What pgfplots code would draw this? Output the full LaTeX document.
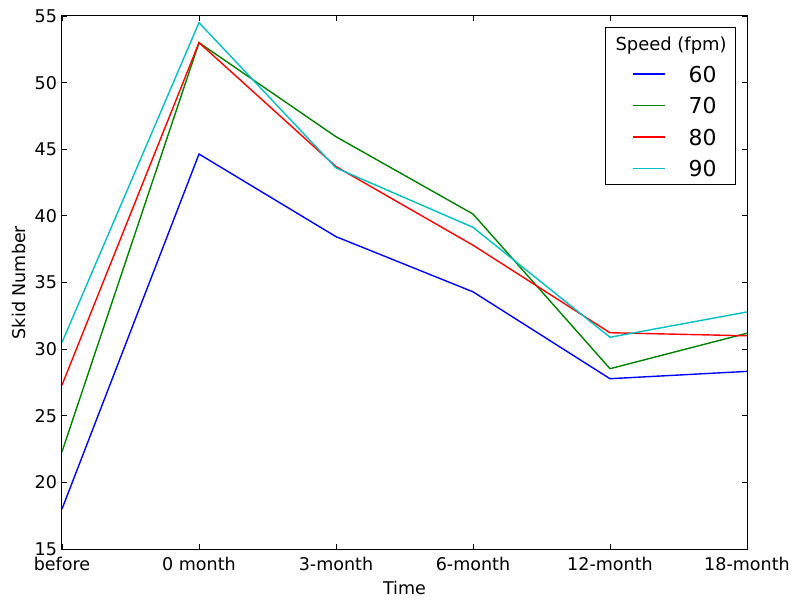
\documentclass[border=0pt]{standalone}
\usepackage{fontspec}
\setmainfont{DejaVu Sans}
\usepackage{pgfplots}
\pgfplotsset{compat=1.18}
\definecolor{mplb}{HTML}{0000FF}
\definecolor{mplg}{HTML}{008000}
\definecolor{mplr}{HTML}{FF0000}
\definecolor{mplc}{HTML}{00BFBF}
\begin{document}
\begin{tikzpicture}
\begin{axis}[
  name=ax,
  scale only axis,
  width=685bp, height=533bp,
  xmin=0, xmax=5, ymin=15, ymax=55,
  xtick={0,1,2,3,4,5},
  xticklabels={before,0 month,3-month,6-month,12-month,18-month},
  ytick={15,20,25,30,35,40,45,50,55},
  tick align=inside,
  xtick pos=both, ytick pos=both,
  major tick length=5bp,
  tick style={black, line width=0.8bp},
  axis line style={black, line width=1bp},
  /pgf/number format/assume math mode=true,
  ticklabel style={font=\fontsize{17.6}{21}\selectfont},
  xticklabel style={anchor=base, yshift=-21bp},
  yticklabel style={xshift=-1.5bp},
  xlabel={Time}, ylabel={Skid Number},
  label style={font=\fontsize{17.6}{21}\selectfont},
  xlabel style={at={(axis description cs:0.5,-0.0845)}, anchor=base},
  ylabel style={at={(axis description cs:-0.0628,0.5)}, anchor=center},
  legend image code/.code={\draw[#1] (0bp,0bp) -- (32bp,0bp);},
  legend style={at={(axis description cs:0.984,0.979)}, anchor=north east,
    draw=black, line width=0.8bp, font=\fontsize{22}{26}\selectfont,
    inner xsep=27bp, inner ysep=8bp, row sep=15.5bp,
    nodes={inner sep=0bp, text height=16bp, text depth=0bp},
    /tikz/every odd column/.append style={column sep=23bp}},
  legend cell align=left,
]
\addlegendimage{empty legend}
\addlegendentry[text height=15bp]{\hspace*{-73bp}\fontsize{18}{21}\selectfont Speed (fpm)\hspace*{-18bp}}
\addplot[mplb, line width=1.4bp] coordinates {(0,18.0) (1,44.64) (2,38.44) (3,34.3) (4,27.78) (5,28.33)};
\addlegendentry{60\hspace*{-18bp}}
\addplot[mplg, line width=1.4bp] coordinates {(0,22.3) (1,53.0) (2,45.94) (3,40.14) (4,28.53) (5,31.19)};
\addlegendentry{70\hspace*{-18bp}}
\addplot[mplr, line width=1.4bp] coordinates {(0,27.3) (1,53.0) (2,43.7) (3,37.8) (4,31.23) (5,31.0)};
\addlegendentry{80\hspace*{-18bp}}
\addplot[mplc, line width=1.4bp] coordinates {(0,30.5) (1,54.5) (2,43.6) (3,39.14) (4,30.89) (5,32.79)};
\addlegendentry{90\hspace*{-18bp}}
\end{axis}
\pgfresetboundingbox
\path ([shift={(-62bp,-51bp)}]ax.south west) rectangle ([shift={(46bp,16bp)}]ax.north east);
\end{tikzpicture}
\end{document}
